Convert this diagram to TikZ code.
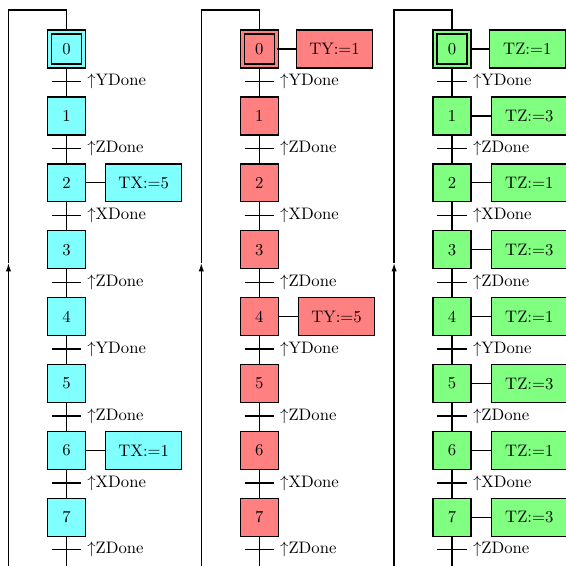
\documentclass[tikz,border=0pt]{standalone}
\usepackage{amsmath}
\usepackage{xcolor}
\definecolor{gcyan}{RGB}{128,255,255}
\definecolor{gred}{RGB}{255,128,128}
\definecolor{ggreen}{RGB}{128,255,128}
\usetikzlibrary{arrows.meta, positioning}

\tikzset{
  stepbox/.style={draw, thick, fill=#1, minimum size=8mm, inner sep=0pt},
  initstep/.style={draw, thick, fill=#1, double=#1, double distance=1.6pt,
                   minimum size=20.36pt, inner sep=0pt},
  actbox/.style={draw, thick, fill=#1, minimum width=16mm, minimum height=8mm},
  link/.style={thick},
  bar/.style={thick},
  trans/.style={anchor=west}
}

\begin{document}
\begin{tikzpicture}[x=0.6pt, y=-0.6pt]
\useasboundingbox (0,0) rectangle (566,565);
\clip (0,0) rectangle (566,565);

% Three step sequences
\foreach \c/\col/\cx in {x/gcyan/66.5, y/gred/259.3, z/ggreen/452.1} {
  % Steps
  \node[initstep=\col] (\c0) at (\cx,49) {0};
  \foreach \k in {1,...,7}
    \node[stepbox=\col] (\c\k) at (\cx,{49+66.9*\k}) {\k};
  % Links
  \foreach \k in {0,...,6} {
    \pgfmathtruncatemacro{\n}{\k+1}
    \draw[link] (\c\k) -- (\c\n);
  }
  % Transitions
  \foreach \k/\cond in {0/YDone, 1/ZDone, 2/XDone, 3/ZDone, 4/YDone, 5/ZDone, 6/XDone, 7/ZDone} {
    \coordinate (\c t\k) at (\cx,{81.5+66.9*\k});
    \draw[bar] ([xshift=-8.8pt]\c t\k) -- ([xshift=8.8pt]\c t\k)
      node[trans] {$\uparrow$\cond};
  }
  % Loop back to the initial step
  \coordinate (\c bot) at (\cx,590);
  \coordinate (\c up) at ({\cx-58},263);
  \coordinate (\c top) at (\cx,10);
  \draw[link, -{Latex[length=5pt, width=3.2pt]}] (\c7) -- (\c bot) -| (\c up);
  \draw[link] (\c up) |- (\c top) -- (\c0);
}

% Actions
\foreach \c/\k/\col/\act in {x/2/gcyan/TX:=5, x/6/gcyan/TX:=1,
    y/0/gred/TY:=1, y/4/gred/TY:=5,
    z/0/ggreen/TZ:=1, z/1/ggreen/TZ:=3, z/2/ggreen/TZ:=1, z/3/ggreen/TZ:=3,
    z/4/ggreen/TZ:=1, z/5/ggreen/TZ:=3, z/6/ggreen/TZ:=1, z/7/ggreen/TZ:=3} {
  \node[actbox=\col, right=4mm of \c\k] (a\c\k) {\act};
  \draw[link] (\c\k) -- (a\c\k);
}

\end{tikzpicture}
\end{document}
